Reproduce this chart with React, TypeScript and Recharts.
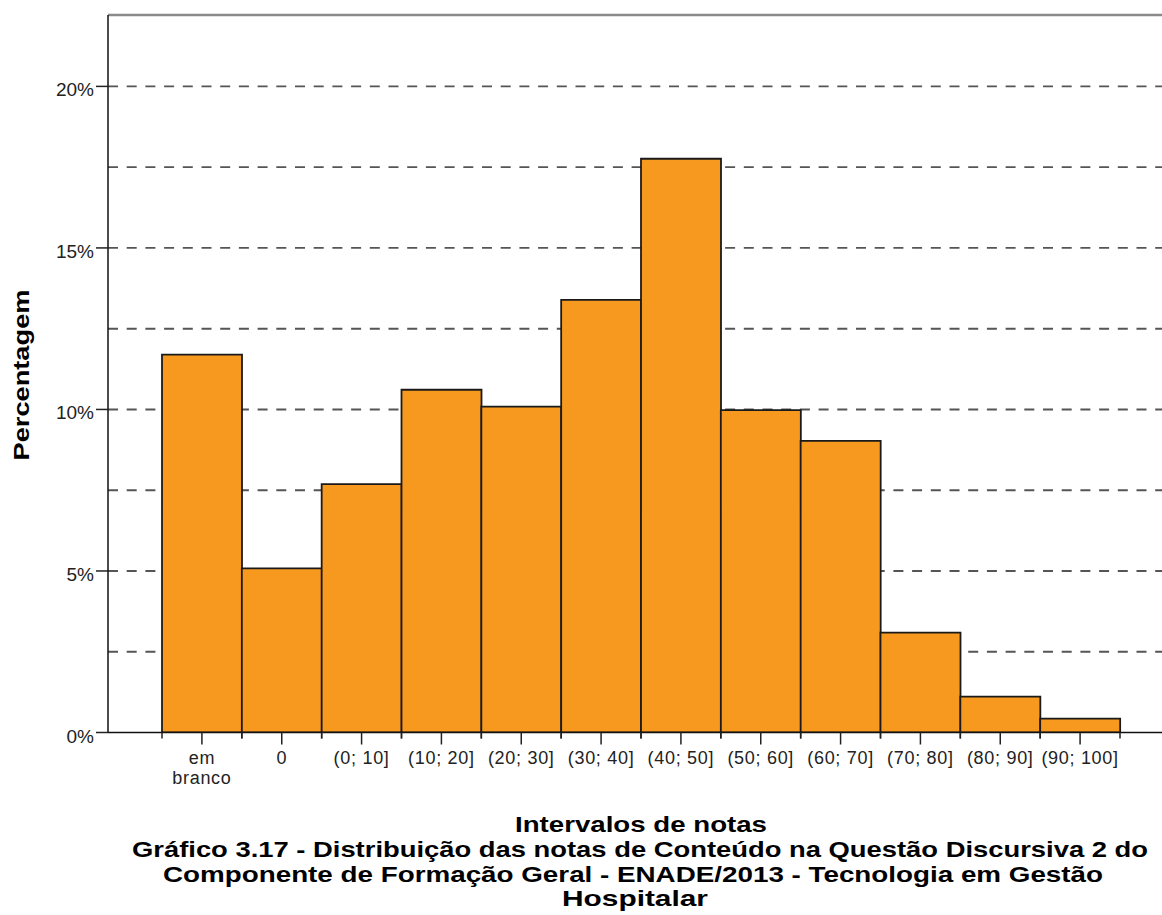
import React from 'react'
import { BarChart, Bar, XAxis, YAxis, CartesianGrid, ReferenceLine } from 'recharts'

const categories = ['em\nbranco', '0', '(0; 10]', '(10; 20]', '(20; 30]', '(30; 40]', '(40; 50]', '(50; 60]', '(60; 70]', '(70; 80]', '(80; 90]', '(90; 100]']
const percentages = [11.7, 5.08, 7.69, 10.61, 10.09, 13.39, 17.76, 9.98, 9.03, 3.09, 1.11, 0.43]
const yTicks = [0, 5, 10, 15, 20]
const gridValues = [2.5, 5, 7.5, 10, 12.5, 15, 17.5, 20]
const yMax = 22.21

const titleLines = [
  'Gráfico 3.17 - Distribuição das notas de Conteúdo na Questão Discursiva 2 do',
  'Componente de Formação Geral - ENADE/2013 - Tecnologia em Gestão',
  'Hospitalar',
]

const data = categories.map((name, i) => ({ name, value: percentages[i] }))

const FONT = '"Liberation Sans", Arial, sans-serif'
const X_TICK_SIZE = 12
const X_TICK_MARGIN = 2

const XTick = (props: any) => {
  const { x, y, payload } = props
  const lines = String(payload.value).split('\n')
  const half = typeof payload.offset === 'number' ? payload.offset : 0
  const axisY = y - X_TICK_SIZE - X_TICK_MARGIN
  return (
    <g>
      {half > 0 && (
        <g stroke="#222" strokeWidth={1.5}>
          <line x1={x - half} x2={x - half} y1={axisY} y2={axisY + 6} />
          <line x1={x + half} x2={x + half} y1={axisY} y2={axisY + 6} />
        </g>
      )}
      <text x={x} y={y} textAnchor="middle" fill="#222" fontSize={18} fontFamily={FONT} letterSpacing={0.7}>
        {lines.map((l, i) => (
          <tspan key={i} x={x} dy={i === 0 ? 17 : 20}>{l}</tspan>
        ))}
      </text>
    </g>
  )
}

const YTick = (props: any) => {
  const { x, y, payload } = props
  return (
    <text x={x} y={y} dy={10} textAnchor="end" fill="#222" fontSize={19} fontFamily={FONT}>
      {`${payload.value}%`}
    </text>
  )
}

const App = () => {
  return (
    <div style={{ position: 'absolute', left: 0, top: 0, width: 1162, height: 915, background: '#fff' }}>
      <BarChart
        width={1162}
        height={915}
        data={data}
        barCategoryGap={0}
        margin={{ top: 15, right: 0, left: 0, bottom: 122.5 }}
      >
        <CartesianGrid
          vertical={false}
          horizontalValues={gridValues}
          stroke="#555"
          strokeWidth={1.9}
          strokeDasharray="10 8.7"
        />
        <XAxis
          dataKey="name"
          interval={0}
          padding={{ left: 54, right: 42 }}
          height={60}
          tickSize={X_TICK_SIZE}
          tickMargin={X_TICK_MARGIN}
          axisLine={{ stroke: '#111', strokeWidth: 1.5 }}
          tickLine={{ stroke: '#222', strokeWidth: 1.5 }}
          tick={<XTick />}
        />
        <YAxis
          width={108}
          domain={[0, yMax]}
          ticks={yTicks}
          allowDataOverflow
          tickSize={12}
          tickMargin={2}
          axisLine={{ stroke: '#111', strokeWidth: 1.5 }}
          tickLine={{ stroke: '#222', strokeWidth: 1.5 }}
          tick={<YTick />}
        />
        <ReferenceLine y={yMax} stroke="#8a8a8a" strokeWidth={2.5} />
        <Bar dataKey="value" fill="#F7991F" stroke="#1a1a1a" strokeWidth={1.8} isAnimationActive={false} />
      </BarChart>
      <svg width={1162} height={915} style={{ position: 'absolute', left: 0, top: 0, pointerEvents: 'none' }}>
        <g fontFamily={FONT} fontWeight="bold" fontSize={22} fill="#000" textAnchor="middle">
          <text x={28.5} y={375} transform="rotate(-90, 28.5, 375)" textLength={171} lengthAdjust="spacingAndGlyphs">
            Percentagem
          </text>
          <text x={641} y={832} textLength={252} lengthAdjust="spacingAndGlyphs">Intervalos de notas</text>
          <text x={640} y={857} textLength={1016} lengthAdjust="spacingAndGlyphs">{titleLines[0]}</text>
          <text x={633} y={881.5} textLength={940} lengthAdjust="spacingAndGlyphs">{titleLines[1]}</text>
          <text x={635} y={906} textLength={146} lengthAdjust="spacingAndGlyphs">{titleLines[2]}</text>
        </g>
      </svg>
    </div>
  )
}

export default App
